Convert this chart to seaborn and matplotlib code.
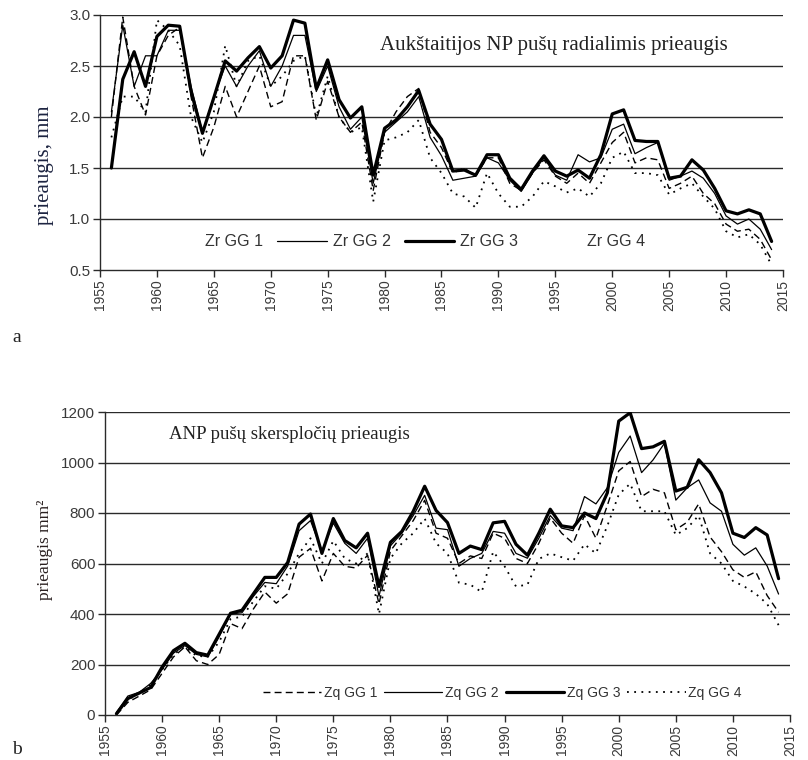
import numpy as np
import pandas as pd
import matplotlib
matplotlib.use("Agg")
import matplotlib.pyplot as plt
from matplotlib.lines import Line2D
import seaborn as sns

years = list(range(1956, 2015))

# Radial increment, mm
zr_gg1 = [2.00, 2.98, 2.30, 2.02, 2.60, 2.80, 2.88, 2.20, 1.60, 1.90,
          2.30, 2.00, 2.25, 2.50, 2.10, 2.15, 2.60, 2.60, 1.97, 2.35,
          2.00, 1.85, 1.95, 1.28, 1.85, 2.05, 2.20, 2.28, 1.85, 1.70,
          1.45, 1.50, 1.42, 1.60, 1.60, 1.35, 1.28, 1.45, 1.58, 1.42,
          1.35, 1.45, 1.35, 1.55, 1.75, 1.85, 1.55, 1.60, 1.58, 1.30,
          1.35, 1.42, 1.25, 1.15, 0.95, 0.88, 0.90, 0.80, 0.60]
zr_gg2 = [2.05, 2.90, 2.30, 2.60, 2.60, 2.85, 2.85, 2.30, 1.85, 2.20,
          2.50, 2.30, 2.50, 2.65, 2.30, 2.50, 2.80, 2.80, 2.25, 2.50,
          2.10, 1.88, 2.00, 1.35, 1.85, 1.95, 2.05, 2.20, 1.80, 1.62,
          1.38, 1.40, 1.42, 1.60, 1.55, 1.38, 1.27, 1.45, 1.60, 1.43,
          1.38, 1.63, 1.56, 1.60, 1.88, 1.93, 1.64, 1.70, 1.75, 1.38,
          1.42, 1.47, 1.40, 1.25, 1.03, 0.95, 1.00, 0.90, 0.70]
zr_gg3 = [1.50, 2.37, 2.64, 2.30, 2.79, 2.90, 2.89, 2.25, 1.84, 2.19,
          2.55, 2.45, 2.58, 2.69, 2.48, 2.60, 2.95, 2.92, 2.28, 2.56,
          2.17, 1.99, 2.10, 1.43, 1.89, 1.97, 2.10, 2.26, 1.93, 1.78,
          1.47, 1.48, 1.43, 1.63, 1.63, 1.40, 1.29, 1.47, 1.62, 1.47,
          1.42, 1.48, 1.40, 1.63, 2.03, 2.07, 1.77, 1.76, 1.76, 1.40,
          1.42, 1.58, 1.48, 1.30, 1.08, 1.05, 1.09, 1.05, 0.78]
zr_gg4 = [1.80, 2.20, 2.20, 2.05, 2.95, 2.85, 2.70, 2.00, 1.75, 2.05,
          2.70, 2.30, 2.55, 2.60, 2.30, 2.40, 2.55, 2.60, 2.00, 2.40,
          2.00, 1.85, 1.90, 1.17, 1.77, 1.80, 1.85, 1.97, 1.60, 1.45,
          1.25, 1.22, 1.11, 1.45, 1.25, 1.12, 1.12, 1.22, 1.37, 1.32,
          1.26, 1.30, 1.22, 1.35, 1.60, 1.66, 1.45, 1.45, 1.43, 1.24,
          1.30, 1.35, 1.22, 1.10, 0.88, 0.82, 0.85, 0.75, 0.55]

# Basal area increment, mm2
zq_gg1 = [0, 50, 75, 100, 165, 230, 270, 215, 200, 240,
          362, 342, 420, 487, 443, 480, 625, 660, 531, 640,
          589, 582, 633, 440, 650, 710, 770, 850, 720, 700,
          600, 630, 620, 720, 700, 620, 600, 680, 780, 720,
          680, 790, 700, 830, 967, 1004, 865, 894, 880, 734,
          764, 836, 705, 647, 575, 545, 567, 473, 407]
zq_gg2 = [10, 75, 90, 125, 180, 245, 275, 240, 230, 310,
          400, 405, 470, 525, 520, 590, 730, 770, 650, 760,
          680, 640, 700, 470, 670, 720, 790, 870, 740, 734,
          589, 620, 640, 727, 720, 640, 621, 700, 790, 740,
          730, 865, 836, 900, 1040, 1105, 960, 1010, 1076, 851,
          900, 931, 840, 807, 676, 633, 662, 590, 479]
zq_gg3 = [5, 65, 87, 109, 190, 255, 284, 247, 237, 320,
          403, 415, 480, 545, 545, 604, 756, 796, 640, 778,
          691, 662, 720, 509, 684, 727, 807, 906, 810, 762,
          640, 669, 655, 761, 767, 676, 633, 720, 815, 749,
          742, 800, 778, 880, 1164, 1197, 1055, 1062, 1084, 887,
          902, 1011, 960, 880, 720, 703, 742, 713, 540]
zq_gg4 = [5, 60, 85, 120, 180, 240, 270, 235, 230, 290,
          380, 390, 450, 510, 500, 560, 640, 700, 600, 690,
          620, 600, 640, 400, 620, 680, 720, 778, 680, 640,
          524, 516, 487, 647, 589, 509, 516, 618, 640, 625,
          611, 676, 640, 749, 873, 916, 807, 807, 807, 713,
          740, 790, 640, 600, 531, 509, 480, 440, 356]

top_labels = ["Zr GG 1", "Zr GG 2", "Zr GG 3", "Zr GG 4"]
bottom_labels = ["Zq GG 1", "Zq GG 2", "Zq GG 3", "Zq GG 4"]

sns.set_style("white")
plt.rcParams["font.family"] = ["Liberation Sans", "DejaVu Sans"]

styles = [
    dict(linestyle=(0, (5, 3)), linewidth=1.0),
    dict(linestyle="-", linewidth=0.9),
    dict(linestyle="-", linewidth=2.3),
    dict(linestyle=(0, (1, 3)), linewidth=1.3),
]

tick_color = "#3a3a3a"
serif = ["Liberation Serif", "DejaVu Serif"]

fig = plt.figure(figsize=(8.08, 7.60), dpi=100)
ax1 = fig.add_axes([100 / 808, 1 - 270 / 760, 683 / 808, 255 / 760])
ax2 = fig.add_axes([105 / 808, 1 - 715 / 760, 685 / 808, 303 / 760])


def draw(ax, series, labels):
    df = pd.DataFrame({"year": years})
    for lab, vals in zip(labels, series):
        df[lab] = vals
    long = df.melt(id_vars="year", var_name="grupe", value_name="value")
    for lab, st in zip(labels, styles):
        sub = long[long["grupe"] == lab]
        sns.lineplot(data=sub, x="year", y="value", ax=ax, color="black",
                     legend=False, **st)


def style_axes(ax, ymin, ymax, ystep, fmt):
    ax.set_xlim(1955, 2015)
    ax.set_ylim(ymin, ymax)
    ax.set_xticks(range(1955, 2016, 5))
    yt = np.arange(ymin, ymax + ystep / 2, ystep)
    ax.set_yticks(yt)
    ax.set_yticklabels([fmt.format(v) for v in yt])
    for v in yt[1:]:
        ax.axhline(v, color="#2a2a2a", linewidth=1.0, zorder=0.5)
    for s in ["top", "right"]:
        ax.spines[s].set_visible(False)
    for s in ["left", "bottom"]:
        ax.spines[s].set_color("#2a2a2a")
        ax.spines[s].set_linewidth(1.0)
    ax.tick_params(axis="x", direction="out", length=5, width=1.0,
                   color="#2a2a2a", labelrotation=90, labelsize=10,
                   labelcolor=tick_color, pad=2, bottom=True)
    ax.tick_params(axis="y", direction="out", length=5, width=1.0,
                   color="#2a2a2a", labelsize=11, labelcolor=tick_color,
                   pad=2, left=True)
    ax.set_xlabel("")
    ax.set_ylabel("")


draw(ax1, [zr_gg1, zr_gg2, zr_gg3, zr_gg4], top_labels)
style_axes(ax1, 0.5, 3.0, 0.5, "{:.1f}")
draw(ax2, [zq_gg1, zq_gg2, zq_gg3, zq_gg4], bottom_labels)
style_axes(ax2, 0, 1200, 200, "{:.0f}")

# Legends
top_handles = []
for i, st in enumerate(styles):
    h = Line2D([], [], color="black", **st)
    if i in (0, 3):
        h.set_alpha(0)
    top_handles.append(h)
ax1.legend(top_handles, top_labels, ncol=4, frameon=False, fontsize=11.5,
           loc="center", bbox_to_anchor=(0.436, 0.11), handlelength=3.1,
           handletextpad=0.35, columnspacing=0.9, labelcolor="#333333")

bottom_handles = [Line2D([], [], color="black", **st) for st in styles]
ax2.legend(bottom_handles, bottom_labels, ncol=4, frameon=False, fontsize=10,
           loc="center", bbox_to_anchor=(0.58, 0.073), handlelength=4.2,
           handletextpad=0.2, columnspacing=0.5, labelcolor="#333333")

# Inner titles
ax1.text(1979.6, 2.7, "Aukštaitijos NP pušų radialimis prieaugis",
         family=serif, fontsize=15, color="#222222", va="center", ha="left")
ax2.text(1960.6, 1110, "ANP pušų skerspločių prieaugis",
         family=serif, fontsize=13.5, color="#222222", va="center", ha="left")

# Axis titles
fig.text(45 / 808, 1 - 165 / 760, "prieaugis, mm", family=serif, fontsize=15,
         rotation=90, ha="center", va="center", color="#1c2340")
fig.text(45 / 808, 1 - 550 / 760, "prieaugis mm²", family=serif, fontsize=12.5,
         rotation=90, ha="center", va="center", color="#2a2020")

# Panel letters
fig.text(12 / 808, 1 - 338 / 760, "a", family=serif, fontsize=14,
         ha="left", va="center", color="#222222")
fig.text(12 / 808, 1 - 750 / 760, "b", family=serif, fontsize=14,
         ha="left", va="center", color="#222222")

fig.savefig("out.png", dpi=100, facecolor="white")
